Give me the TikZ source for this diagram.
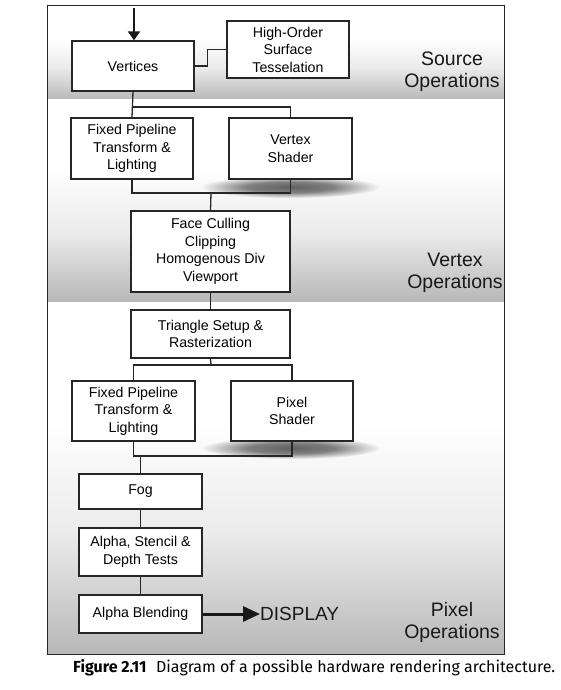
\documentclass[tikz,border=0pt]{standalone}
\usepackage{fontspec}
\setmainfont{Liberation Sans}
\newfontfamily\capfont{Fira Sans}
\usetikzlibrary{arrows.meta,fadings}
\pgfdeclareverticalshading{bandshade}{100bp}{color(0bp)=(black!28); color(25bp)=(black!28); color(42bp)=(black!8); color(58bp)=(white); color(100bp)=(white)}
\pgfdeclareradialshading{blobshade}{\pgfpointorigin}{color(0bp)=(white); color(12bp)=(white!80!black); color(25bp)=(black); color(50bp)=(black)}
\pgfdeclarefading{blobfade}{\pgfuseshading{blobshade}}
\begin{document}
\begin{tikzpicture}[x=1pt,y=-1pt,
  box/.style={draw=black!85, line width=1.3pt, fill=white, align=center, inner sep=0pt,
              font=\fontsize{14.2}{17.5}\selectfont},
  conn/.style={draw=black!85, line width=1.3pt},
  oplabel/.style={align=center, font=\fontsize{19.5}{22}\selectfont, text=black!90},
  bandfill/.style={shading=bandshade},
  shadowblob/.style={fill=black!62, path fading=blobfade}]
\useasboundingbox (0,0) rectangle (560,690);
% bands
\fill[bandfill] (47,6) rectangle (504,100);
\fill[bandfill] (47,100) rectangle (504,302);
\fill[bandfill] (47,302) rectangle (504,654);
\draw[black!85, line width=1pt] (47,6) rectangle (504,654);
% shadows
\fill[shadowblob] (290,187) ellipse [x radius=90pt, y radius=11pt];
\fill[shadowblob] (291,448) ellipse [x radius=90pt, y radius=11pt];
% nodes
\node[box, minimum width=122pt, minimum height=50pt] (vert) at (133,66) {Vertices};
\node[box, minimum width=122pt, minimum height=57pt] (hot) at (288,49.5) {High-Order\\Surface\\Tesselation};
\node[box, minimum width=122pt, minimum height=61pt] (fp1) at (132,148.5) {Fixed Pipeline\\Transform \&\\Lighting};
\node[box, minimum width=123pt, minimum height=61pt] (vs) at (290.5,148.5) {Vertex\\Shader};
\node[box, minimum width=159pt, minimum height=81pt] (face) at (210.5,251.5) {Face Culling\\Clipping\\Homogenous Div\\Viewport};
\node[box, minimum width=159pt, minimum height=48pt] (tri) at (210.5,334) {Triangle Setup \&\\Rasterization};
\node[box, minimum width=123pt, minimum height=60pt] (fp2) at (133.5,411) {Fixed Pipeline\\Transform \&\\Lighting};
\node[box, minimum width=122pt, minimum height=60pt] (ps) at (292,411) {Pixel\\Shader};
\node[box, minimum width=123pt, minimum height=35pt] (fog) at (140.5,491.5) {Fog};
\node[box, minimum width=123pt, minimum height=48pt] (ast) at (140.5,552) {Alpha, Stencil \&\\Depth Tests};
\node[box, minimum width=123pt, minimum height=38pt] (ab) at (140.5,614) {Alpha Blending};
\node[anchor=west, inner sep=0pt, font=\fontsize{19}{22}\selectfont, text=black!90] (disp) at (260,614) {DISPLAY};
% operation labels
\node[oplabel] (srcops) at (452,72) {Source\\Operations};
\node[oplabel] (vtxops) at (455,273) {Vertex\\Operations};
\node[oplabel] (pixops) at (452,622) {Pixel\\Operations};
% junction coordinates
\coordinate (in) at (134,8);
\coordinate (j1) at (133,107);
\coordinate (j2) at (211,193);
\coordinate (j3) at (211,365);
\coordinate (j4) at (140.5,456);
% connectors
\draw[black!90, line width=1.9pt, -{Triangle[length=9pt,width=12pt]}] (in) -- (in |- vert.north);
\draw[conn] (vert.east) -- ++(13,0) |- (hot.west);
\draw[conn] (vert.south) -- (fp1.north);
\draw[conn] (j1) -| (vs.north);
\draw[conn] (fp1.south) -- (fp1.south |- j2) -- (vs.south |- j2) -- (vs.south);
\draw[conn] (j2) -- (face.north);
\draw[conn] (face.south) -- (tri.north);
\draw[conn] (tri.south) -- (j3);
\draw[conn] (fp2.north) -- (fp2.north |- j3) -- (ps.north |- j3) -- (ps.north);
\draw[conn] (fp2.south) -- (fp2.south |- j4) -- (ps.south |- j4) -- (ps.south);
\draw[conn] (j4) -- (fog.north);
\draw[conn] (fog.south) -- (ast.north);
\draw[conn] (ast.south) -- (ab.north);
\draw[black!90, line width=3pt, -{Triangle[length=17pt,width=15pt]}] (ab.east) -- (disp.west);
% caption
\node[anchor=base west, inner sep=0pt, font=\capfont\fontsize{14.5}{17}\selectfont] (cap) at (73,672)
  {\resizebox{482pt}{!}{\textbf{Figure 2.11}\hspace{0.6em}Diagram of a possible hardware rendering architecture.}};
\end{tikzpicture}
\end{document}
